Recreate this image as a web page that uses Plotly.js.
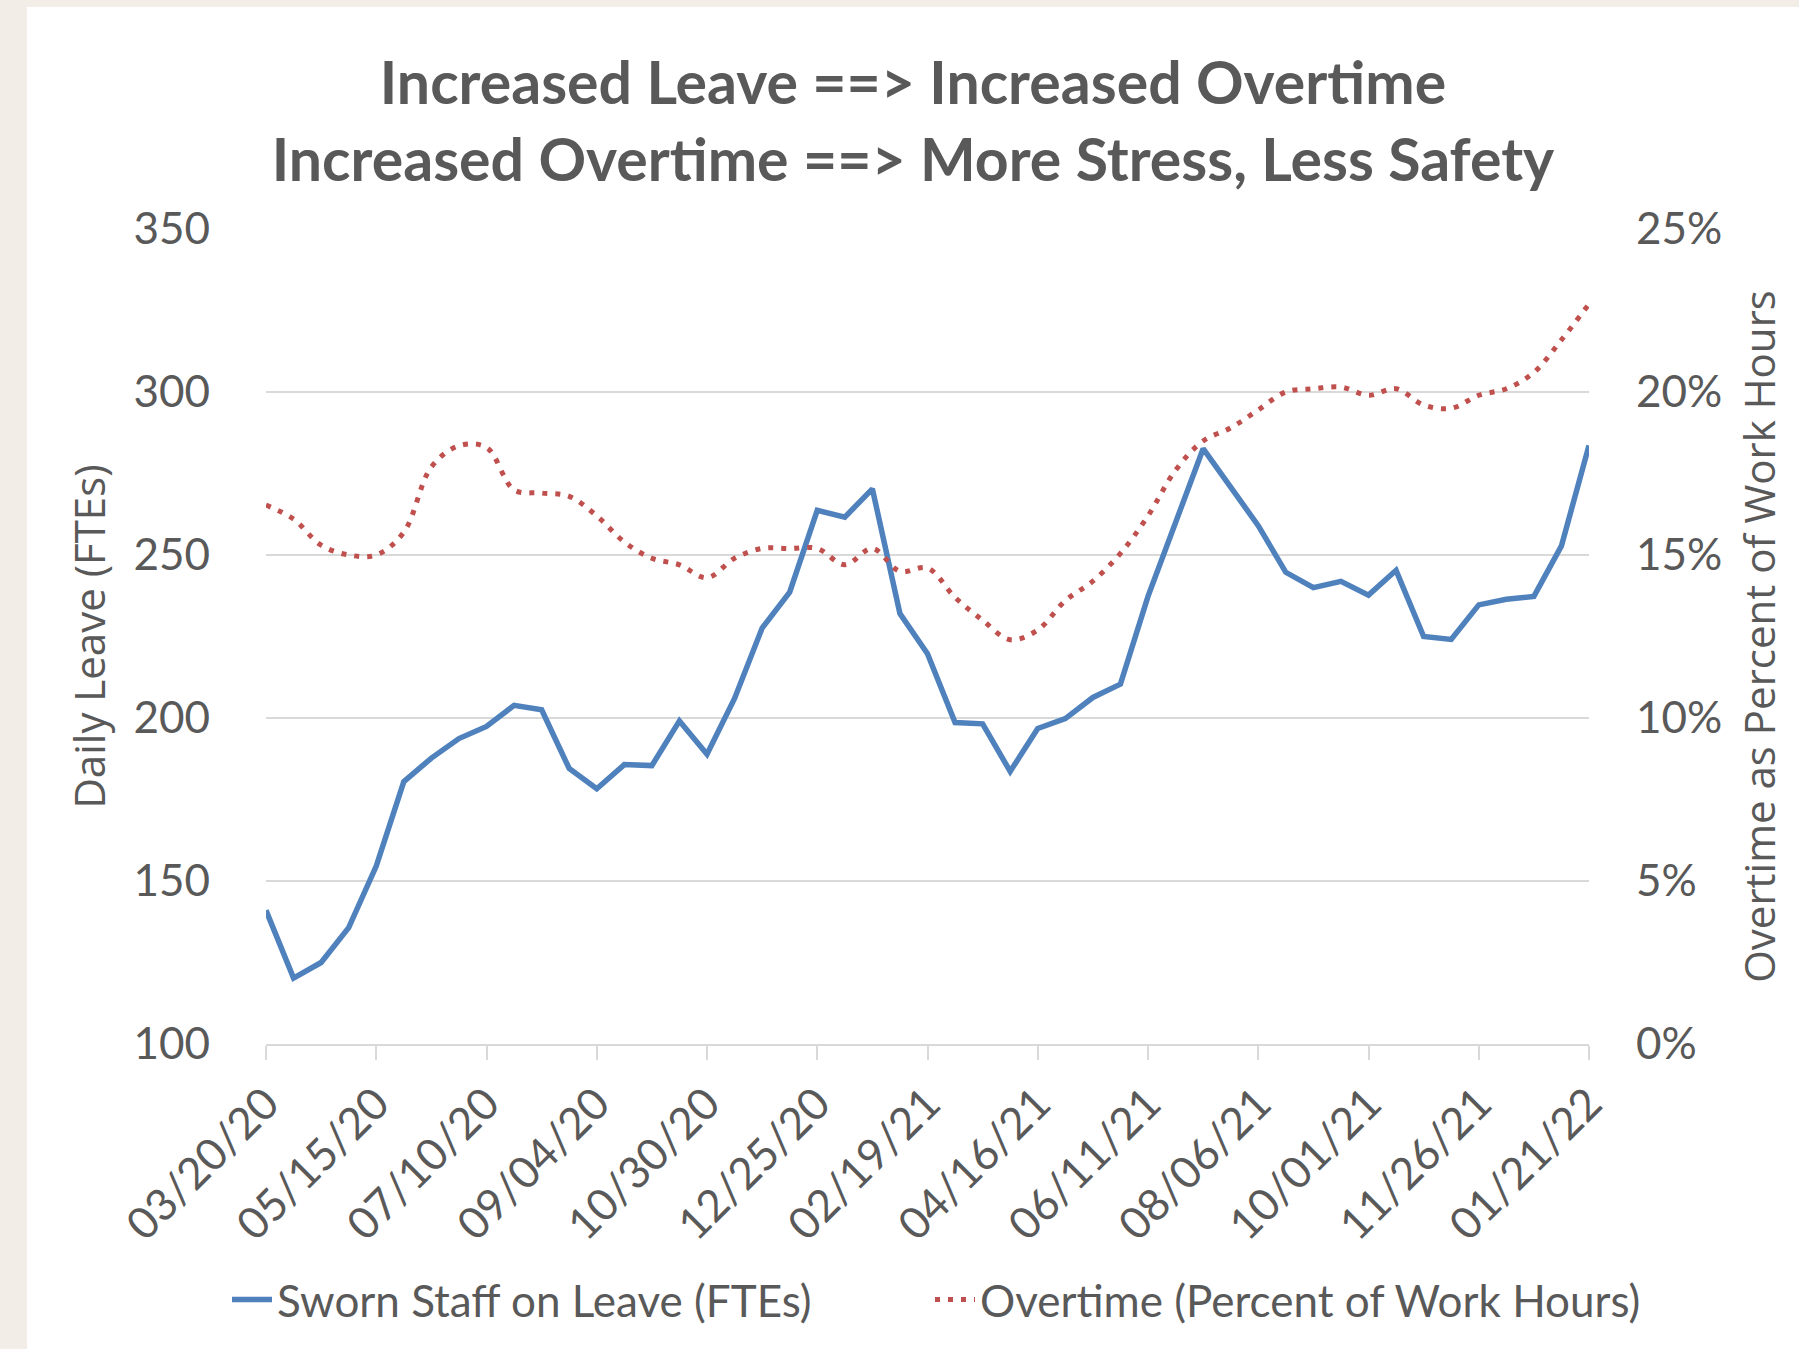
<!DOCTYPE html>
<html>
<head>
<meta charset="utf-8">
<script src="https://cdn.plot.ly/plotly-3.0.1.min.js"></script>
<style>
  html, body { margin: 0; padding: 0; background: #f2ede6; width: 1799px; height: 1349px; overflow: hidden; }
  #chart { position: absolute; left: 27px; top: 7px; width: 1772px; height: 1342px; background: #ffffff; }
</style>
</head>
<body>
<div id="chart"></div>
<script>
// Biweekly period dates
const dates = [
  "03/20/20","04/03/20","04/17/20","05/01/20","05/15/20","05/29/20","06/12/20","06/26/20",
  "07/10/20","07/24/20","08/07/20","08/21/20","09/04/20","09/18/20","10/02/20","10/16/20",
  "10/30/20","11/13/20","11/27/20","12/11/20","12/25/20","01/08/21","01/22/21","02/05/21",
  "02/19/21","03/05/21","03/19/21","04/02/21","04/16/21","04/30/21","05/14/21","05/28/21",
  "06/11/21","06/25/21","07/09/21","07/23/21","08/06/21","08/20/21","09/03/21","09/17/21",
  "10/01/21","10/15/21","10/29/21","11/12/21","11/26/21","12/10/21","12/24/21","01/07/22",
  "01/21/22"
];

// Sworn staff on leave (FTEs)
const leaveFTEs = [
  141.0, 120.2, 125.0, 135.7, 154.6, 180.5, 187.7, 193.7,
  197.4, 203.9, 202.5, 184.5, 178.3, 185.7, 185.4, 199.1,
  188.9, 206.0, 227.6, 238.6, 263.7, 261.6, 270.3, 232.0,
  219.7, 198.6, 198.2, 183.6, 196.8, 199.8, 206.3, 210.4,
  237.3, 260.0, 282.6, 270.8, 259.0, 244.7, 240.0, 241.9,
  237.7, 245.3, 225.0, 224.1, 234.7, 236.4, 237.3, 252.8,
  283.6
];

// Overtime as share of work hours
const overtimePct = [
  0.1653, 0.1610, 0.1530, 0.1500, 0.1500, 0.1570, 0.1770, 0.1835,
  0.1830, 0.1700, 0.1690, 0.1680, 0.1620, 0.1540, 0.1490, 0.1470,
  0.1430, 0.1490, 0.1520, 0.1520, 0.1520, 0.1470, 0.1520, 0.1450,
  0.1460, 0.1370, 0.1300, 0.1240, 0.1270, 0.1360, 0.1420, 0.1505,
  0.1620, 0.1760, 0.1850, 0.1890, 0.1945, 0.2000, 0.2010, 0.2015,
  0.1990, 0.2010, 0.1960, 0.1950, 0.1990, 0.2010, 0.2060, 0.2160,
  0.2270
];

const tickDates = [
  "03/20/20","05/15/20","07/10/20","09/04/20","10/30/20","12/25/20","02/19/21",
  "04/16/21","06/11/21","08/06/21","10/01/21","11/26/21","01/21/22"
];

const titleLines = ["Increased Leave ==> Increased Overtime", "Increased Overtime ==> More Stress, Less Safety"];
const seriesNames = ["Sworn Staff on Leave (FTEs)", "Overtime (Percent of Work Hours)"];

const textColor = "#595959";
const gridColor = "#d9d9d9";
const tickFont = "Lato, 'Open Sans', sans-serif";
const axisTitleFont = "'Open Sans', 'Noto Sans', sans-serif";

const traces = [
  {
    x: dates, y: leaveFTEs, name: seriesNames[0], type: "scatter", mode: "lines",
    line: { color: "#4f81bd", width: 5.5 }, yaxis: "y", cliponaxis: false, legend: "legend"
  },
  {
    x: dates, y: overtimePct, name: seriesNames[1], type: "scatter", mode: "lines",
    line: { color: "#c0504d", width: 5, dash: "5px,8px", shape: "spline", smoothing: 1 },
    yaxis: "y2", cliponaxis: false, legend: "legend2"
  }
];

const legendCommon = {
  orientation: "h", xanchor: "left", xref: "container",
  y: 49 / 1342, yanchor: "middle", yref: "container",
  font: { family: tickFont, size: 44, color: textColor },
  itemwidth: 40, bgcolor: "rgba(0,0,0,0)"
};

const layout = {
  width: 1772, height: 1342,
  paper_bgcolor: "#ffffff", plot_bgcolor: "#ffffff",
  margin: { l: 239, r: 210, t: 222, b: 305 },
  font: { family: tickFont, color: textColor, size: 44 },
  title: {
    text: "<b>" + titleLines.join("<br>") + "</b>",
    font: { family: tickFont, size: 59, color: textColor },
    x: 0.5, xanchor: "center", xref: "container",
    y: 1 - 97 / 1342, yanchor: "top", yref: "container"
  },
  xaxis: {
    type: "category", range: [0, 48],
    tickmode: "array", tickvals: tickDates, ticktext: tickDates,
    tickangle: -45, ticks: "outside", ticklen: 14, tickwidth: 2, tickcolor: gridColor,
    showline: true, linecolor: gridColor, linewidth: 2,
    showgrid: false, zeroline: false,
    tickfont: { family: tickFont, size: 44, color: textColor }
  },
  yaxis: {
    range: [100, 350], dtick: 50, tick0: 100,
    showgrid: true, gridcolor: gridColor, gridwidth: 2,
    zeroline: false, showline: false, ticks: "",
    ticklabelstandoff: 55,
    tickfont: { family: tickFont, size: 44, color: textColor },
    title: { text: "Daily Leave (FTEs)", font: { family: axisTitleFont, size: 42, color: textColor }, standoff: 14 }
  },
  yaxis2: {
    overlaying: "y", side: "right",
    range: [0, 0.25], dtick: 0.05, tick0: 0, tickformat: ".0%",
    showgrid: false, zeroline: false, showline: false, ticks: "",
    ticklabelstandoff: 46,
    tickfont: { family: tickFont, size: 44, color: textColor },
    title: { text: "Overtime as Percent of Work Hours", font: { family: axisTitleFont, size: 42, color: textColor }, standoff: 24 }
  },
  showlegend: true,
  legend: Object.assign({}, legendCommon, { x: 200 / 1772 }),
  legend2: Object.assign({}, legendCommon, { x: 903 / 1772 })
};

Plotly.newPlot("chart", traces, layout, { displayModeBar: false, staticPlot: true });
</script>
</body>
</html>
